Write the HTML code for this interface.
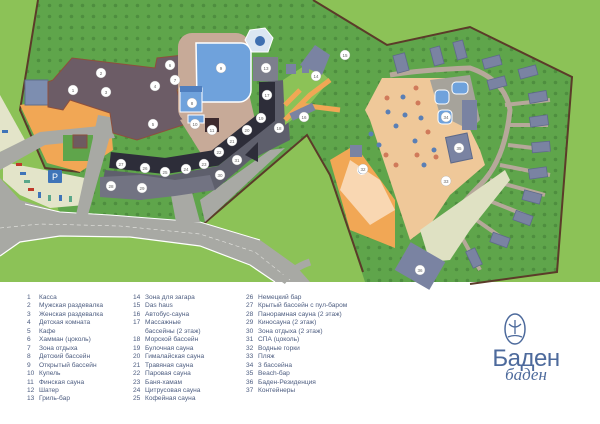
<!DOCTYPE html>
<html><head><meta charset="utf-8"><style>
html,body{margin:0;padding:0;background:#fff;width:600px;height:424px;overflow:hidden}
.lg{position:absolute;font-family:"Liberation Sans","Noto Sans CJK SC",sans-serif;font-size:6.6px;color:#4d5d80;line-height:8.45px;white-space:nowrap}
.lg span{display:inline-block;width:12px}
</style></head><body>
<svg width="600" height="424" style="position:absolute;left:0;top:0" xmlns="http://www.w3.org/2000/svg" font-family="Liberation Sans, sans-serif">
<defs>
<pattern id="d" width="11" height="11" patternUnits="userSpaceOnUse"><rect width="11" height="11" fill="#5fa54b"/><circle cx="5.5" cy="5.5" r="1.8" fill="#4e8e3f"/></pattern>
</defs>
<rect x="0" y="0" width="600" height="282" fill="#8cc257"/>
<!-- dark green regions -->
<polygon points="38,0 313,0 387,45 470,27 572,77 557,272 480,282 365,282 330,175 307,135 200,227 100,218 60,215 45,168 20,110" fill="url(#d)"/>
<polyline points="38,0 20,110 45,168 80,172" fill="none" stroke="#5b3b29" stroke-width="2"/>
<polyline points="313,0 387,45 470,27 572,77 557,272 470,284" fill="none" stroke="#5b3b29" stroke-width="2"/>
<polyline points="200,227 307,135 330,175 363,272" fill="none" stroke="#5b3b29" stroke-width="2"/>
<!-- left parking/orange -->
<polygon points="20,105 48,100 70,100 110,113 113,150 80,172 47,163" fill="#f1a755"/>
<rect x="25" y="80" width="23" height="25" fill="#7d8eb0" stroke="#5e6d8c"/>
<polygon points="0,95 25,140 0,152" fill="#e3e4c9"/>
<polygon points="3,162 45,170 85,178 85,205 50,208 20,195 3,180" fill="#e3e4c9"/>
<polygon points="0,152 40,132 110,125 115,138 45,145 0,170" fill="#a8a9a4"/>
<rect x="63" y="135" width="30" height="26" fill="#5fa54b"/>
<rect x="73" y="135" width="14" height="13" fill="#6e5b60" stroke="#8b4f3a"/>
<rect x="48" y="170" width="14" height="13" rx="1" fill="#3f74b8"/><text x="55" y="180" font-size="9" fill="#fff" text-anchor="middle">P</text>
<g fill="#3f74b8"><rect x="2" y="130" width="6" height="3"/><rect x="16" y="163" width="6" height="3" fill="#c0392b"/><rect x="20" y="172" width="6" height="3"/><rect x="24" y="180" width="6" height="3" fill="#5aa78a"/><rect x="28" y="188" width="6" height="3" fill="#c0392b"/><rect x="38" y="192" width="3" height="6"/><rect x="48" y="195" width="3" height="6" fill="#5aa78a"/><rect x="59" y="195" width="3" height="6"/><rect x="69" y="196" width="3" height="6" fill="#5aa78a"/></g>
<!-- road -->
<polygon points="0,178 20,200 60,212 110,215 200,222 260,240 295,265 310,282 275,282 250,265 200,246 130,237 60,236 20,242 0,256" fill="#a8a9a4"/>
<polyline points="0,256 20,242 60,236 130,237 200,246 250,265 275,282" fill="none" stroke="#fff" stroke-width="1.2"/>
<polyline points="25,204 60,212 110,215 200,222 260,240" fill="none" stroke="#fff" stroke-width="1"/>
<polyline points="0,228 40,224 120,226 200,234 255,252 290,280" fill="none" stroke="#e8e8e4" stroke-width="0.6" stroke-dasharray="4 3"/>
<path d="M282,282 Q292,268 310,262" fill="none" stroke="#a8a9a4" stroke-width="7"/>
<!-- vertical grey paths -->
<polygon points="98,115 115,118 88,215 76,215" fill="#a8a9a4"/>
<polygon points="170,190 190,185 200,222 176,222" fill="#a8a9a4"/>
<polygon points="200,200 270,150 285,148 205,222" fill="#a8a9a4"/>
<!-- main building -->
<polygon points="48,82 53,80 72,58 155,68 157,58 183,55 187,77 177,90 182,110 183,125 137,140 113,133 110,113 70,100 63,110 48,107" fill="#6c5c66" stroke="#8e4f3c" stroke-width="1"/>
<!-- pool area -->
<rect x="178" y="33" width="72" height="90" rx="14" fill="#c7aa98"/>
<polygon points="180,120 250,98 262,150 205,160" fill="#c7aa98"/>
<path d="M196,43 h45 a10,10 0 0 1 10,10 v37 a12,12 0 0 1 -12,12 h-42 z" fill="#6fa2dc" stroke="#fff" stroke-width="1.5"/>
<rect x="180" y="88" width="22" height="24" fill="#6fa2dc" stroke="#fff"/>
<rect x="180" y="86" width="22" height="6" fill="#4f7fbf"/>
<rect x="188" y="115" width="16" height="8" fill="#6fa2dc" stroke="#fff"/>
<rect x="205" y="118" width="14" height="14" fill="#3d2a2e"/>
<polygon points="250,30 265,28 273,38 268,52 252,52 245,40" fill="#dbe6f2" stroke="#fff"/>
<circle cx="260" cy="41" r="5" fill="#3f6fb0"/>
<rect x="253" y="57" width="25" height="24" fill="#7d7f8d"/>
<!-- sauna wing -->
<polygon points="258,82 275,82 275,120 218,166 165,176 105,170 100,195 140,200 175,194 215,190 250,160 290,140 285,80" fill="#5e5f6c"/>
<polyline points="267,82 267,117 215,158 165,166 110,160" fill="none" stroke="#2d2d39" stroke-width="16"/>
<polygon points="100,177 140,175 175,180 210,175 215,190 175,196 140,200 100,197" fill="#727382"/>
<polygon points="245,155 258,142 258,162" fill="#2d2d39"/>
<!-- 14,16 area -->
<polygon points="283,80 310,62 330,80 305,110 285,125" fill="#8cc257"/>
<path d="M285,120 L310,95 L330,80 M300,105 L340,110 M285,105 L300,90" stroke="#f1a755" stroke-width="5" fill="none"/>
<polygon points="300,65 315,45 330,55 322,75" fill="#7a83a2"/>
<rect x="290" y="108" width="25" height="8" transform="rotate(-25 302 112)" fill="#7a83a2"/>
<rect x="286" y="64" width="10" height="10" fill="#7a83a2"/><rect x="302" y="66" width="7" height="7" fill="#7a83a2"/>
<!-- right region -->
<path d="M390,75 Q420,70 470,68 Q505,80 510,110 Q505,160 480,185 Q450,215 440,240 Q430,260 420,270" fill="none" stroke="#b6a89a" stroke-width="5"/>
<g stroke="#b6a89a" stroke-width="4">
<line x1="505" y1="105" x2="550" y2="100"/><line x1="510" y1="125" x2="548" y2="125"/><line x1="508" y1="145" x2="550" y2="150"/><line x1="500" y1="165" x2="550" y2="175"/><line x1="490" y1="180" x2="545" y2="195"/><line x1="475" y1="195" x2="525" y2="215"/><line x1="462" y1="210" x2="505" y2="240"/><line x1="455" y1="225" x2="480" y2="270"/>
</g>
<polygon points="382,78 445,78 480,150 485,165 450,195 430,225 410,240 370,120 365,110" fill="#efc899"/>
<polygon points="420,230 505,170 510,180 470,230 450,260 430,262" fill="#dfe1c3"/>
<polygon points="330,160 355,145 395,200 395,248 350,230" fill="#f1a755"/>
<polygon points="350,160 380,180 395,210 370,225 340,190" fill="#fff" opacity=".55"/>
<circle cx="362" cy="170" r="5" fill="#fff"/><circle cx="362" cy="170" r="4" fill="#6fa2dc"/>
<rect x="350" y="145" width="12" height="12" fill="#7a83a2"/>
<polygon points="430,80 470,75 480,120 470,130 440,115" fill="#a6a39b"/>
<rect x="435" y="90" width="14" height="14" rx="4" fill="#6fa2dc" stroke="#fff"/>
<rect x="452" y="82" width="16" height="12" rx="4" fill="#6fa2dc" stroke="#fff"/>
<rect x="438" y="110" width="14" height="14" rx="4" fill="#6fa2dc" stroke="#fff"/>
<rect x="462" y="100" width="15" height="30" fill="#7a83a2"/>
<rect x="448" y="135" width="22" height="26" fill="#7a83a2" stroke="#5e6a8a" transform="rotate(-12 459 148)"/>
<rect x="400" y="250" width="40" height="32" fill="#7a83a2" transform="rotate(30 420 266)"/>
<g fill="#7a83a2" stroke="#5e6a8a" stroke-width=".8">
<rect x="395" y="54" width="12" height="18" transform="rotate(-15 401 63)"/>
<rect x="432" y="47" width="10" height="18" transform="rotate(-15 437 56)"/>
<rect x="455" y="41" width="10" height="18" transform="rotate(-15 460 50)"/>
<rect x="483" y="57" width="18" height="10" transform="rotate(-15 492 62)"/>
<rect x="519" y="67" width="18" height="10" transform="rotate(-15 528 72)"/>
<rect x="488" y="78" width="18" height="10" transform="rotate(-15 497 83)"/>
<rect x="529" y="92" width="18" height="10" transform="rotate(-10 538 97)"/>
<rect x="530" y="116" width="18" height="10" transform="rotate(-8 539 121)"/>
<rect x="532" y="142" width="18" height="10" transform="rotate(-5 541 147)"/>
<rect x="529" y="168" width="18" height="10" transform="rotate(-8 538 173)"/>
<rect x="523" y="192" width="18" height="10" transform="rotate(15 532 197)"/>
<rect x="514" y="213" width="18" height="10" transform="rotate(20 523 218)"/>
<rect x="491" y="235" width="18" height="10" transform="rotate(20 500 240)"/>
<rect x="469" y="249" width="10" height="18" transform="rotate(-25 474 258)"/>
</g>
<g fill="#fff" font-size="6" fill-opacity="1" text-anchor="middle" font-weight="bold">
<g stroke="#999" stroke-width=".3">
<circle cx="73" cy="90" r="5"/><circle cx="101" cy="73" r="5"/><circle cx="106" cy="92" r="5"/><circle cx="155" cy="86" r="5"/><circle cx="153" cy="124" r="5"/><circle cx="170" cy="65" r="5"/><circle cx="175" cy="80" r="5"/><circle cx="192" cy="103" r="5"/><circle cx="221" cy="68" r="5"/><circle cx="195" cy="124" r="5"/><circle cx="212" cy="130" r="5"/><circle cx="266" cy="68" r="5"/><circle cx="316" cy="76" r="5"/><circle cx="345" cy="55" r="5"/><circle cx="304" cy="117" r="5"/><circle cx="267" cy="95" r="5"/><circle cx="279" cy="128" r="5"/><circle cx="261" cy="118" r="5"/><circle cx="247" cy="130" r="5"/><circle cx="232" cy="141" r="5"/><circle cx="219" cy="152" r="5"/><circle cx="204" cy="164" r="5"/><circle cx="186" cy="169" r="5"/><circle cx="165" cy="172" r="5"/><circle cx="145" cy="168" r="5"/><circle cx="121" cy="164" r="5"/><circle cx="111" cy="186" r="5"/><circle cx="142" cy="188" r="5"/><circle cx="220" cy="175" r="5"/><circle cx="237" cy="160" r="5"/><circle cx="363" cy="169" r="5"/><circle cx="446" cy="117" r="5"/><circle cx="446" cy="181" r="5"/><circle cx="459" cy="148" r="5"/><circle cx="420" cy="270" r="5"/>
</g>
<g fill="#666" font-size="4.5" font-weight="normal">
<text x="73" y="92">1</text><text x="101" y="75">2</text><text x="106" y="94">3</text><text x="155" y="88">4</text><text x="153" y="126">5</text><text x="170" y="67">6</text><text x="175" y="82">7</text><text x="192" y="105">8</text><text x="221" y="70">9</text><text x="195" y="126">10</text><text x="212" y="132">11</text><text x="266" y="70">13</text><text x="316" y="78">14</text><text x="345" y="57">15</text><text x="304" y="119">16</text><text x="267" y="97">17</text><text x="279" y="130">18</text><text x="261" y="120">19</text><text x="247" y="132">20</text><text x="232" y="143">21</text><text x="219" y="154">22</text><text x="204" y="166">23</text><text x="186" y="171">24</text><text x="165" y="174">25</text><text x="145" y="170">26</text><text x="121" y="166">27</text><text x="111" y="188">28</text><text x="142" y="190">29</text><text x="220" y="177">30</text><text x="237" y="162">31</text><text x="363" y="171">32</text><text x="446" y="183">33</text><text x="446" y="119">34</text><text x="459" y="150">35</text><text x="420" y="272">36</text>
</g></g>
<!-- umbrellas -->
<g fill="#5a7fb5"><circle cx="403" cy="97" r="2.5"/><circle cx="405" cy="115" r="2.5"/><circle cx="396" cy="126" r="2.5"/><circle cx="421" cy="118" r="2.5"/><circle cx="415" cy="141" r="2.5"/><circle cx="434" cy="150" r="2.5"/><circle cx="424" cy="165" r="2.5"/><circle cx="371" cy="134" r="2.5"/><circle cx="379" cy="145" r="2.5"/><circle cx="388" cy="112" r="2.5"/></g>
<g fill="#d07a5a"><circle cx="416" cy="88" r="2.5"/><circle cx="418" cy="103" r="2.5"/><circle cx="387" cy="98" r="2.5"/><circle cx="428" cy="132" r="2.5"/><circle cx="417" cy="155" r="2.5"/><circle cx="436" cy="157" r="2.5"/><circle cx="386" cy="155" r="2.5"/><circle cx="396" cy="165" r="2.5"/></g>
</svg>
<div class="lg" style="left:27px;top:294px"><span>1</span>Касса<br><span>2</span>Мужская раздевалка<br><span>3</span>Женская раздевалка<br><span>4</span>Детская комната<br><span>5</span>Кафе<br><span>6</span>Хамман (цоколь)<br><span>7</span>Зона отдыха<br><span>8</span>Детский бассейн<br><span>9</span>Открытый бассейн<br><span>10</span>Купель<br><span>11</span>Финская сауна<br><span>12</span>Шатер<br><span>13</span>Гриль-бар</div>
<div class="lg" style="left:133px;top:294px"><span>14</span>Зона для загара<br><span>15</span>Das haus<br><span>16</span>Автобус-сауна<br><span>17</span>Массажные<br><span></span>бассейны (2 этаж)<br><span>18</span>Морской бассейн<br><span>19</span>Булочная сауна<br><span>20</span>Гималайская сауна<br><span>21</span>Травяная сауна<br><span>22</span>Паровая сауна<br><span>23</span>Баня-хамам<br><span>24</span>Цитрусовая сауна<br><span>25</span>Кофейная сауна</div>
<div class="lg" style="left:246px;top:294px"><span>26</span>Немецкий бар<br><span>27</span>Крытый бассейн с пул-баром<br><span>28</span>Панорамная сауна (2 этаж)<br><span>29</span>Киносауна (2 этаж)<br><span>30</span>Зона отдыха (2 этаж)<br><span>31</span>СПА (цоколь)<br><span>32</span>Водные горки<br><span>33</span>Пляж<br><span>34</span>3 бассейна<br><span>35</span>Beach-бар<br><span>36</span>Баден-Резиденция<br><span>37</span>Контейнеры</div>
<svg width="600" height="424" style="position:absolute;left:0;top:0">
<ellipse cx="515" cy="329" rx="10" ry="15" fill="none" stroke="#4d6a9c" stroke-width="1.5"/>
<path d="M515,320 v14 M509,324 q6,6 12,0 M508,337 q7,-3 14,0" stroke="#4d6a9c" stroke-width="1.3" fill="none"/>
<text x="526" y="366" font-family="Liberation Sans, sans-serif" font-size="24" fill="#4d6a9c" text-anchor="middle" letter-spacing="-0.5">Баден</text>
<text x="526" y="380" font-family="Liberation Serif, serif" font-style="italic" font-size="17" fill="#4d6a9c" text-anchor="middle">баден</text>
</svg>
</body></html>
